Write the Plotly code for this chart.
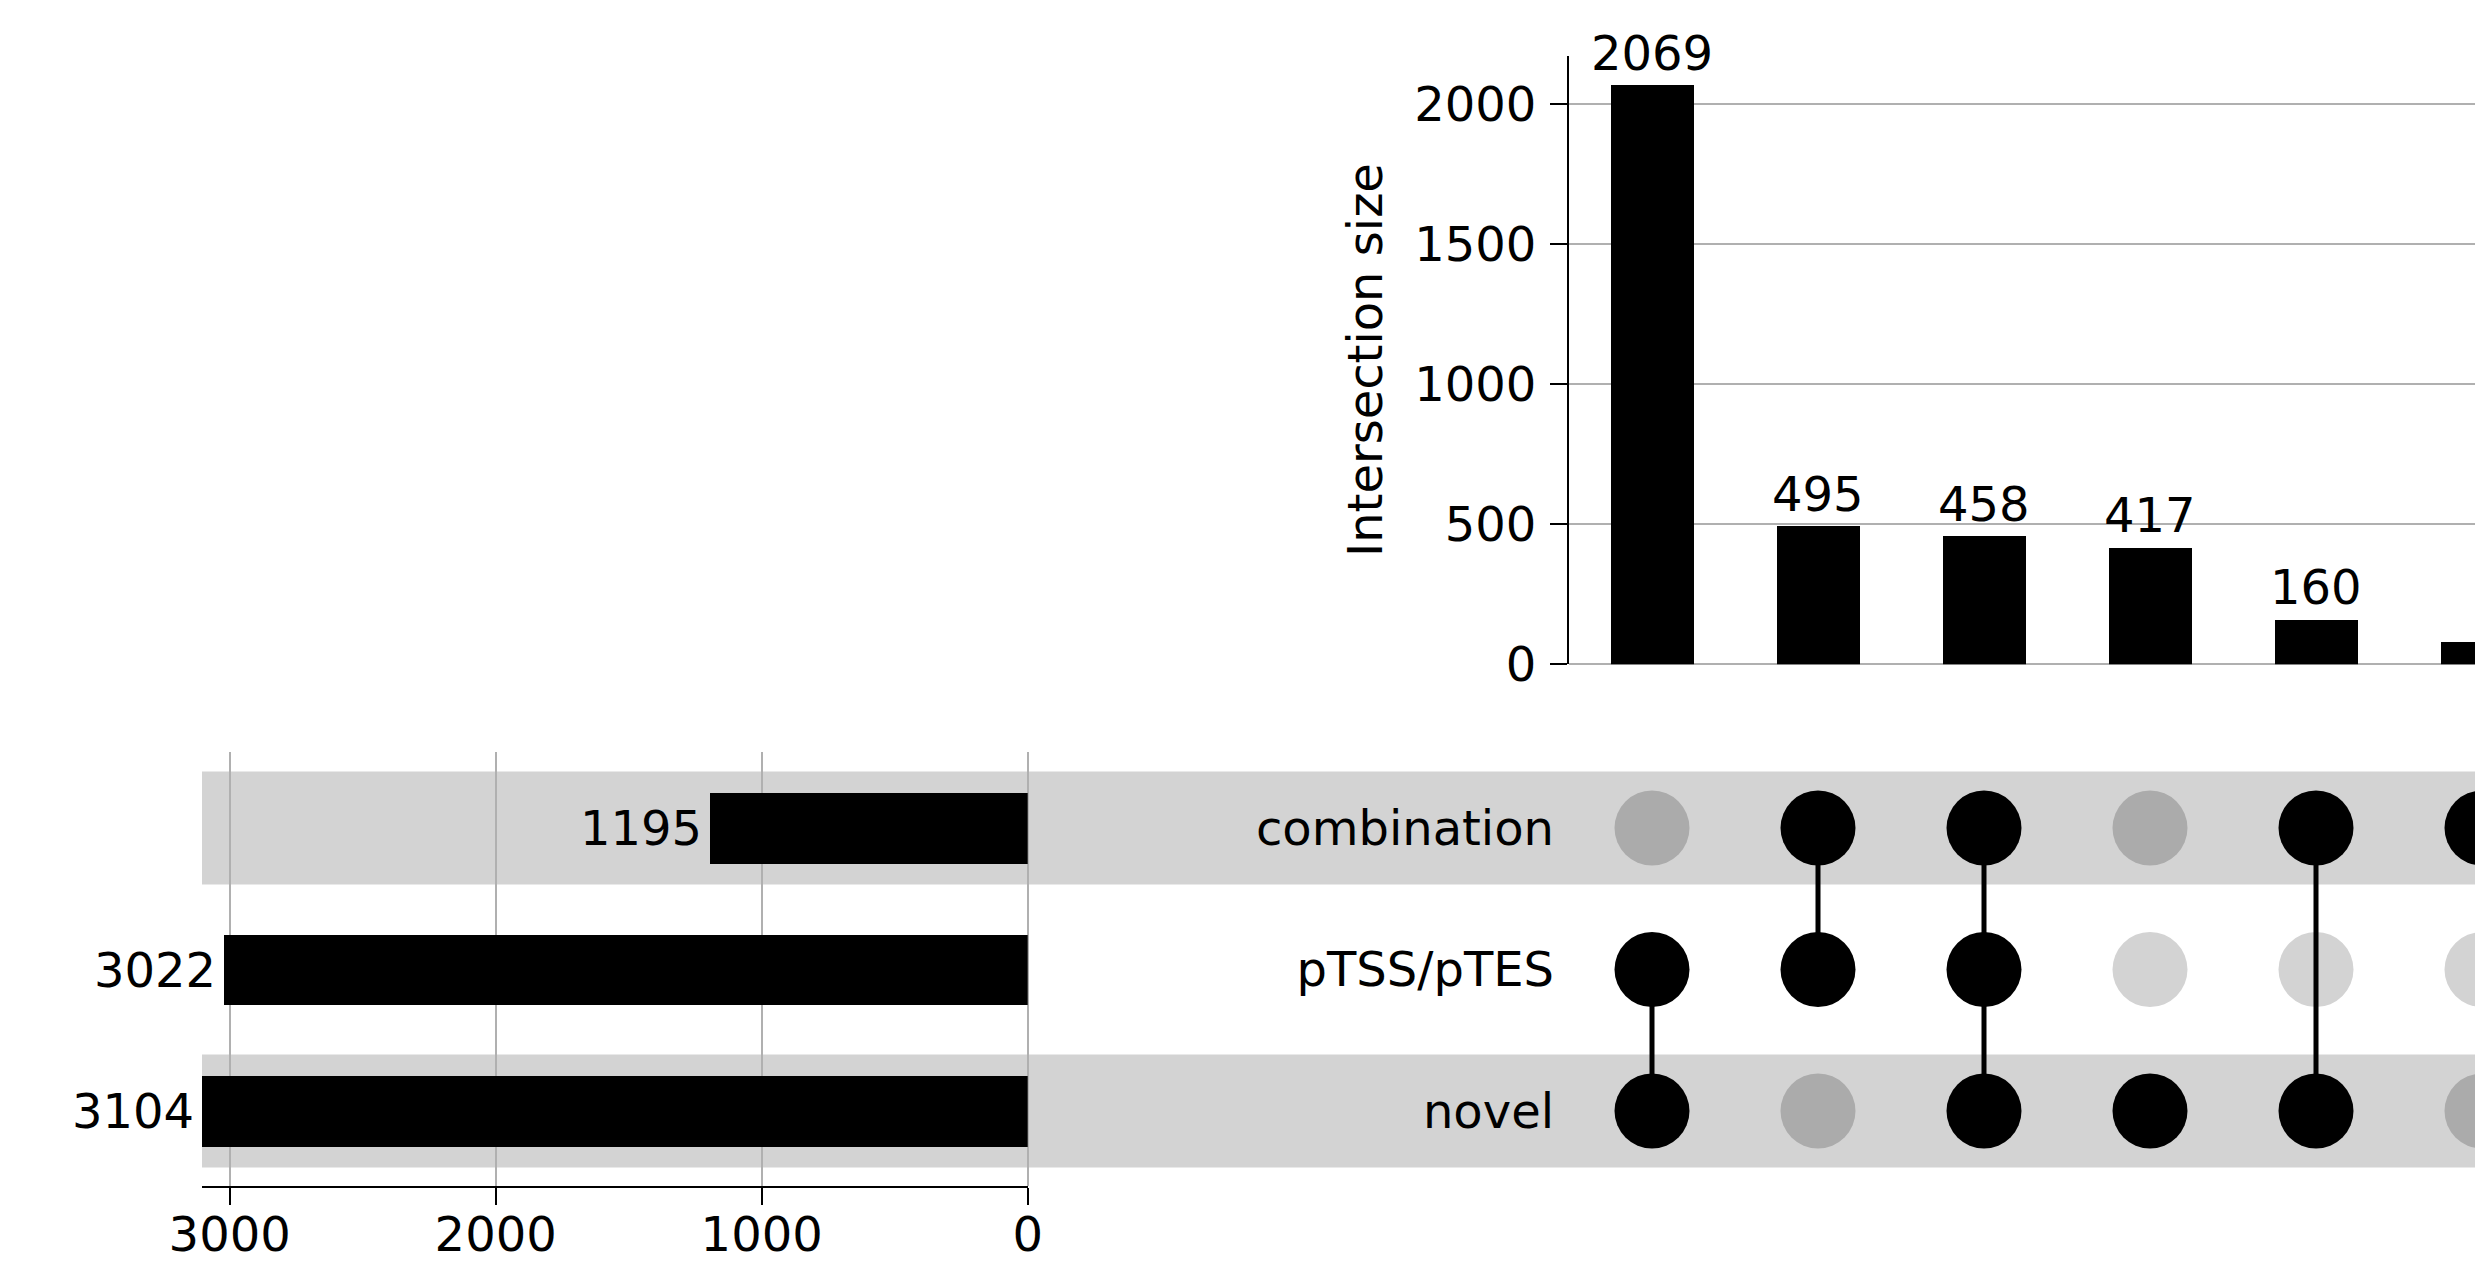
import plotly.graph_objects as go

# ---- data ----
sets = ["novel", "pTSS/pTES", "combination"]          # bottom -> top rows
set_totals = [3104, 3022, 1195]
intersection_sizes = [2069, 495, 458, 417, 160, 82]
# membership per intersection: (novel, pTSS/pTES, combination)
membership = [
    (1, 1, 0),
    (0, 1, 1),
    (1, 1, 1),
    (1, 0, 0),
    (1, 0, 1),
    (0, 0, 1),
]
size_ticks = [0, 500, 1000, 1500, 2000]
total_ticks = [0, 1000, 2000, 3000]

W, H = 2475, 1262
FONT = "DejaVu Sans"
FS = 48
GRID = "#b0b0b0"
BAND = "#d3d3d3"

def px(x):
    return x / W

def py(y):
    return 1 - y / H

fig = go.Figure()

cols = list(range(len(intersection_sizes)))

# intersection bars
fig.add_trace(go.Bar(x=cols, y=intersection_sizes, width=0.5,
                     marker=dict(color="black", line=dict(width=0)),
                     xaxis="x", yaxis="y", showlegend=False, hoverinfo="skip"))

# matrix: inactive dots
for r, name in enumerate(sets):
    xs = [c for c in cols if membership[c][r] == 0]
    color = "#ababab" if r in (0, 2) else BAND
    fig.add_trace(go.Scatter(x=xs, y=[r] * len(xs), mode="markers",
                             marker=dict(size=75, color=color, line=dict(width=0)),
                             xaxis="x2", yaxis="y2", showlegend=False, hoverinfo="skip"))

# connecting lines
for c in cols:
    act = [r for r in range(len(sets)) if membership[c][r]]
    if len(act) > 1:
        fig.add_trace(go.Scatter(x=[c, c], y=[min(act), max(act)], mode="lines",
                                 line=dict(color="black", width=5),
                                 xaxis="x2", yaxis="y2", showlegend=False, hoverinfo="skip"))

# active dots
ax_, ay_ = [], []
for c in cols:
    for r in range(len(sets)):
        if membership[c][r]:
            ax_.append(c)
            ay_.append(r)
fig.add_trace(go.Scatter(x=ax_, y=ay_, mode="markers",
                         marker=dict(size=75, color="black", line=dict(width=0)),
                         xaxis="x2", yaxis="y2", showlegend=False, hoverinfo="skip"))

# totals bars
fig.add_trace(go.Bar(x=set_totals, y=list(range(len(sets))), orientation="h", width=0.5,
                     marker=dict(color="black", line=dict(width=0)),
                     xaxis="x3", yaxis="y3", showlegend=False, hoverinfo="skip"))

annotations = []
for c, v in zip(cols, intersection_sizes):
    annotations.append(dict(x=c, y=v, xref="x", yref="y", text=str(v), showarrow=False,
                            xanchor="center", yanchor="bottom", yshift=2,
                            font=dict(family=FONT, size=FS, color="black")))
for r, v in enumerate(set_totals):
    annotations.append(dict(x=v, y=r, xref="x3", yref="y3", text=str(v), showarrow=False,
                            xanchor="right", yanchor="middle", xshift=-6,
                            font=dict(family=FONT, size=FS, color="black")))
annotations.append(dict(x=px(1365), y=py(360), xref="paper", yref="paper",
                        text="Intersection size", textangle=-90, showarrow=False,
                        xanchor="center", yanchor="middle",
                        font=dict(family=FONT, size=FS, color="black")))

shapes = []
for r in (0, 2):
    shapes.append(dict(type="rect", xref="paper", yref="y2", x0=px(202), x1=1,
                       y0=r - 0.4, y1=r + 0.4, fillcolor=BAND, line=dict(width=0),
                       layer="below"))

xmax = (W - 1652) / 166.0

fig.update_layout(
    width=W, height=H, margin=dict(l=0, r=0, t=0, b=0, pad=0, autoexpand=False),
    paper_bgcolor="white", plot_bgcolor="rgba(0,0,0,0)",
    font=dict(family=FONT, size=FS, color="black"),
    bargap=0,
    xaxis=dict(domain=[px(1569), 1], range=[-0.5, xmax], anchor="y", automargin=False,
               showgrid=False, zeroline=False, showline=False, showticklabels=False, ticks=""),
    yaxis=dict(domain=[py(664.3), py(55.8)], range=[0, 2172], anchor="x", automargin=False,
               tickvals=size_ticks, showgrid=True, gridcolor=GRID, gridwidth=2,
               zeroline=True, zerolinecolor=GRID, zerolinewidth=2,
               showline=True, linecolor="black", linewidth=2,
               ticks="outside", ticklen=17, tickwidth=2, tickcolor="black",
               tickfont=dict(family=FONT, size=FS), ticklabelstandoff=4),
    xaxis2=dict(domain=[px(1569), 1], range=[-0.5, xmax], anchor="y2", matches="x",
                automargin=False,
                showgrid=False, zeroline=False, showline=False, showticklabels=False, ticks=""),
    yaxis2=dict(domain=[py(1181.75), py(757.25)], range=[-0.5, 2.5], anchor="x2",
                automargin=False,
                tickvals=[0, 1, 2], ticktext=sets, showgrid=False, zeroline=False,
                showline=False, ticks="", tickfont=dict(family=FONT, size=FS),
                ticklabelstandoff=14),
    xaxis3=dict(domain=[px(202), px(1027.7)], range=[3104, 0], anchor="y3",
                automargin=False,
                tickvals=total_ticks, showgrid=True, gridcolor=GRID, gridwidth=2,
                zeroline=True, zerolinecolor=GRID, zerolinewidth=2,
                showline=True, linecolor="black", linewidth=2,
                ticks="outside", ticklen=17, tickwidth=2, tickcolor="black",
                tickfont=dict(family=FONT, size=FS), layer="above traces",
                ticklabelstandoff=-12),
    yaxis3=dict(domain=[py(1186), py(751.6)], range=[-0.53, 2.54], anchor="x3",
                automargin=False,
                showgrid=False, zeroline=False, showline=False, showticklabels=False, ticks=""),
    annotations=annotations,
    shapes=shapes,
)

fig.write_html("out.html", config={"displayModeBar": False},
               post_script="document.body.style.margin='0';document.body.style.overflow='hidden';")
